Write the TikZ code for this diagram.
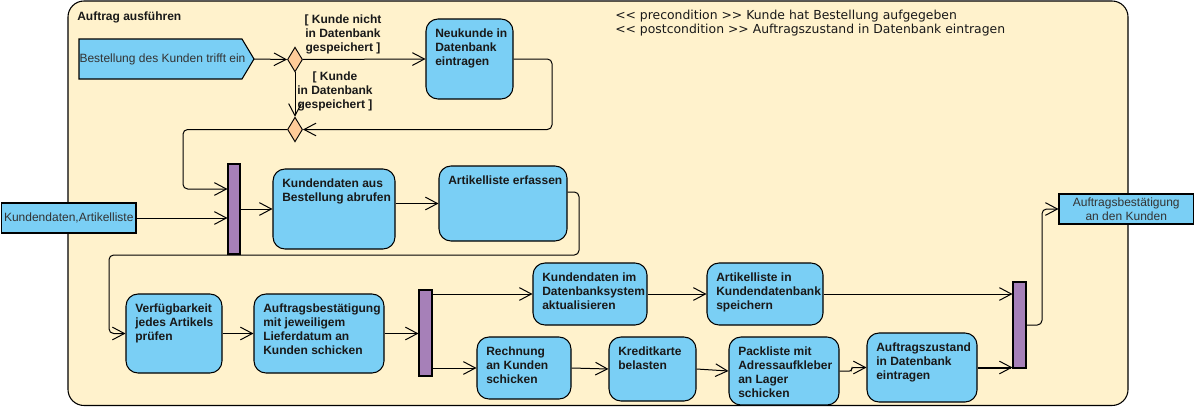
\documentclass[tikz,border=0pt]{standalone}
\usepackage{fontspec}
\setmainfont{Liberation Sans}
\newfontfamily\dejavu{DejaVu Sans}
\usetikzlibrary{arrows.meta,shapes.geometric,fit}
\definecolor{frameF}{HTML}{FFF2CC}
\definecolor{actF}{HTML}{7ACFF5}
\definecolor{forkF}{HTML}{A680B8}
\definecolor{decF}{HTML}{FFCC99}
\newcommand\actnode[6]{%
  \node[actbox, fit={(#2,#3) (#4,#5)}] (#1) {};
  \node[acttext] (#1t) at (#2+9,#3+10) {#6};}
\begin{document}
\begin{tikzpicture}[x=0.75pt,y=-0.75pt,
 framebox/.style={draw, fill=frameF, rounded corners=12pt, inner sep=0, line width=0.8pt},
 actbox/.style={draw, fill=actF, rounded corners=9pt, inner sep=0, line width=0.8pt},
 acttext/.style={font=\bfseries\fontsize{9}{10.3}\selectfont, align=left, anchor=north west, inner sep=0, text=black!90},
 pinbox/.style={draw, fill=actF, inner sep=0, line width=0.8pt},
 pintext/.style={font=\fontsize{9}{10.3}\selectfont, align=center, inner sep=0, text=black!80},
 forkbar/.style={draw, fill=forkF, inner sep=0, line width=0.8pt},
 decision/.style={diamond, draw, fill=decF, inner sep=0, minimum width=11.25pt, minimum height=18.5pt, line width=0.7pt},
 flow/.style={line width=0.75pt, -{Straight Barb[length=9pt,width=9.5pt,line width=0.75pt]}, rounded corners=3.5pt},
 guard/.style={font=\bfseries\fontsize{9}{10.3}\selectfont, align=center, inner sep=0, text=black!90, anchor=north},
 condtext/.style={font=\dejavu\fontsize{9.3}{10.5}\selectfont, anchor=base west, inner sep=0, text=black!90}
]
\useasboundingbox (0,0) rectangle (1195,407);

% frame
\node[framebox, fit={(68,1) (1128,405.5)}] (frame) {};
\node[font=\bfseries\fontsize{9}{10.3}\selectfont, anchor=base west, inner sep=0, text=black!90] (title) at (77,20) {Auftrag ausführen};
\node[condtext] (pre) at (615,19) {<\kern0pt< precondition >\kern0pt> Kunde hat Bestellung aufgegeben};
\node[condtext] (post) at (615,33) {<\kern0pt< postcondition >\kern0pt> Auftragszustand in Datenbank eintragen};

% input pin
\draw[fill=actF, line width=0.8pt] (79,39) -- (242,39) -- (254,59) -- (242,79) -- (79,79) -- cycle;
\node[pintext] (best) at (162.5,59) {Bestellung des Kunden trifft ein};
\coordinate (bestout) at (254,59);

% decisions
\node[decision] (d1) at (295,59.5) {};
\node[decision] (d2) at (295,129.5) {};
\node[guard] (g1) at (343,15) {[ Kunde nicht\\in Datenbank\\gespeichert ]};
\node[guard] (g2) at (335,72) {[ Kunde\\in Datenbank\\gespeichert ]};

% actions
\actnode{neu}{426}{19}{513}{99}{Neukunde in\\Datenbank\\eintragen}
\actnode{kdab}{273}{169}{395}{249}{Kundendaten aus\\Bestellung abrufen}
\actnode{art}{439}{166}{567}{241}{Artikelliste erfassen}
\actnode{verf}{126}{294}{222}{373}{Verfügbarkeit\\jedes Artikels\\prüfen}
\actnode{aufb}{254}{294}{384}{373}{Auftragsbestätigung\\mit jeweiligem\\Lieferdatum an\\Kunden schicken}
\actnode{kdat}{533}{263}{647}{325}{Kundendaten im\\Datenbanksystem\\aktualisieren}
\actnode{artspe}{707}{263}{823}{325}{Artikelliste in\\Kundendatenbank\\speichern}
\actnode{rech}{477}{337}{571}{399}{Rechnung\\an Kunden\\schicken}
\actnode{kred}{609}{337}{696}{401}{Kreditkarte\\belasten}
\actnode{pack}{729}{337}{839}{405}{Packliste mit\\Adressaufkleber\\an Lager\\schicken}
\actnode{auzu}{867}{333}{977}{402}{Auftragszustand\\in Datenbank\\eintragen}

% forks
\node[forkbar, fit={(228,164) (240,254)}] (fork1) {};
\node[forkbar, fit={(419,290) (432,376)}] (fork2) {};
\node[forkbar, fit={(1013,282) (1026,368)}] (fork3) {};

% pins
\node[pinbox, fit={(1.5,203) (136,233)}] (kpin) {};
\node[pintext] (kpint) at (kpin.center) {Kundendaten,Artikelliste};
\node[pinbox, fit={(1059,194) (1193.5,224)}] (outpin) {};
\node[pintext] (outpint) at (outpin.center) {Auftragsbestätigung\\an den Kunden};

% connectors
\draw[flow] (bestout) -- (d1.west);
\draw[flow] (d1.east) -- (neu.west);
\draw[flow] (d1.south) -- (d2.north);
\draw[flow] (neu.east) -- (552,59) -- (552,129.5) -- (d2.east);
\coordinate (k1) at (183,189);
\draw[flow] (d2.west) -- (d2.west -| k1) -- (k1) -- (k1 -| fork1.west);
\draw[flow] (kpin.east) -- (kpin.east -| fork1.west);
\draw[flow] (kdab.west -| fork1.east) -- (kdab.west);
\draw[flow] (art.west -| kdab.east) -- (art.west);
\coordinate (c1) at (579,192);
\coordinate (c2) at (109,255);
\draw[flow] (art.east |- c1) -- (c1) -- (c1 |- c2) -- (c2) -- (c2 |- verf.west) -- (verf.west);
\draw[flow] (verf.east) -- (aufb.west);
\draw[flow] (aufb.east) -- (aufb.east -| fork2.west);
\draw[flow] (kdat.west -| fork2.east) -- (kdat.west);
\draw[flow] (kdat.east) -- (artspe.west);
\draw[flow] (artspe.east) -- (artspe.east -| fork3.west);
\draw[flow] (rech.west -| fork2.east) -- (rech.west);
\draw[flow] (rech.east) -- (kred.west);
\draw[flow] (kred.east) -- (pack.west);
\draw[flow, rounded corners=1.5pt] (pack.east) -- ++(12,0) |- (auzu.west);
\draw[flow, line width=1.5pt] (auzu.east) -- (auzu.east -| fork3.west);
\coordinate (c3) at (1042,325);
\draw[flow] (c3 -| fork3.east) -- (c3) -- (c3 |- outpin.west) -- (outpin.west);
\end{tikzpicture}
\end{document}
